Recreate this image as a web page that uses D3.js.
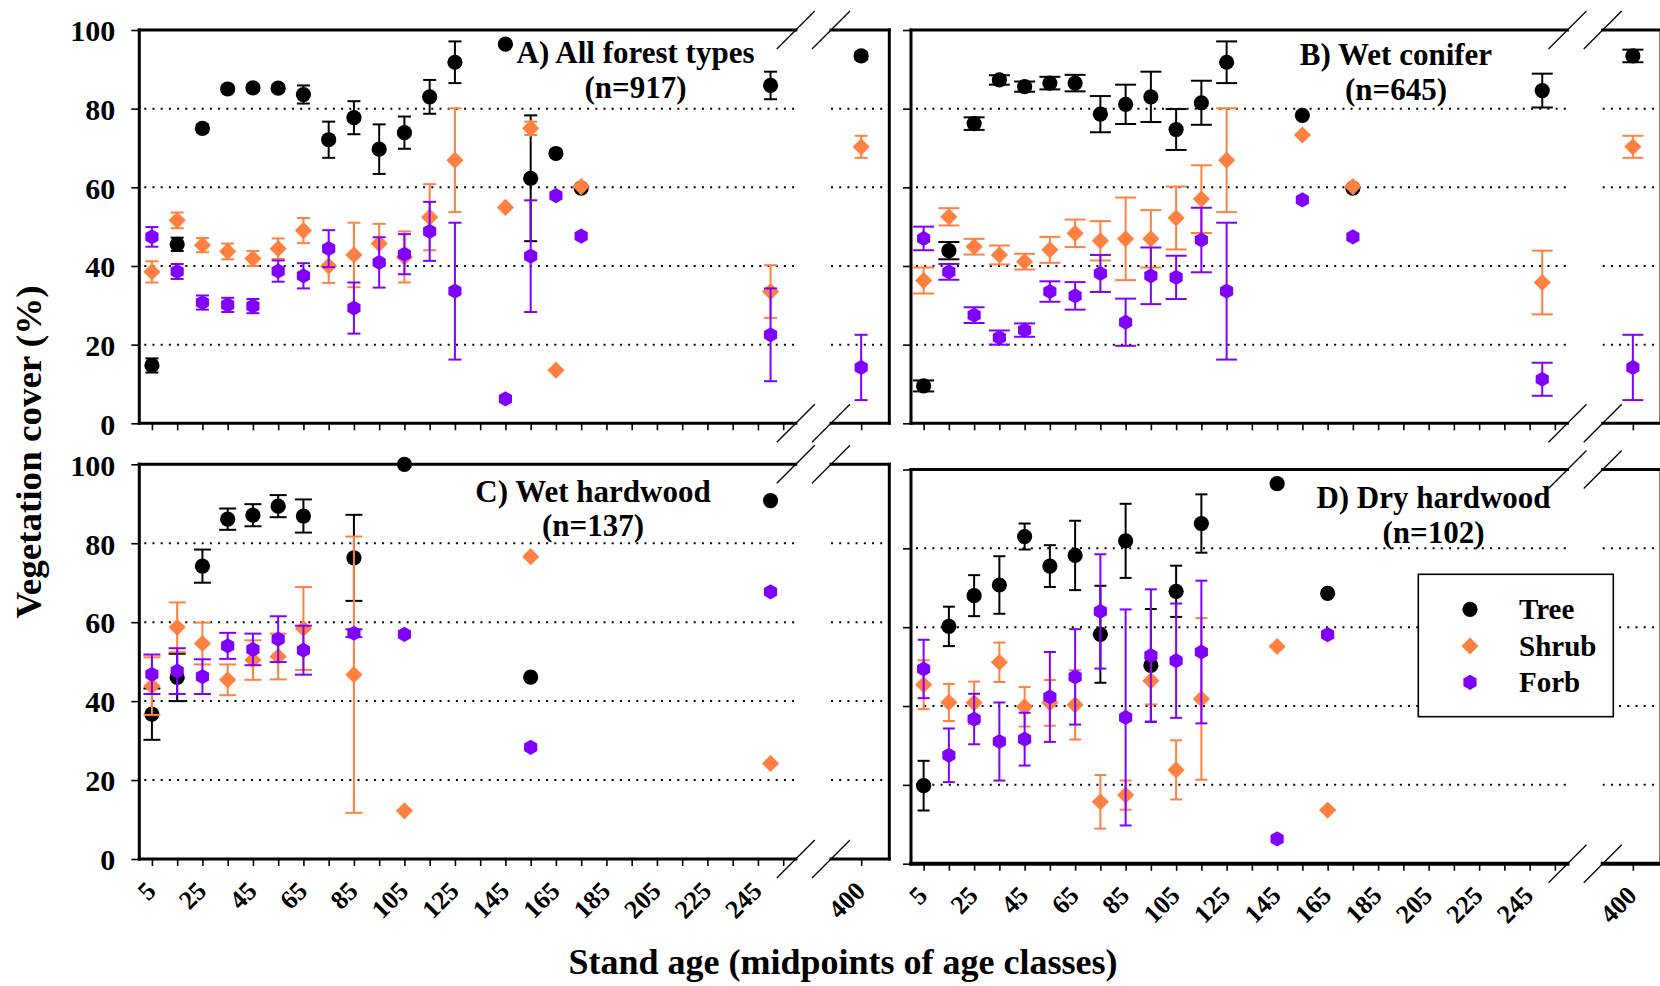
<!DOCTYPE html>
<html><head><meta charset="utf-8">
<script src="https://cdn.jsdelivr.net/npm/d3@7"></script>
<style>
body{margin:0;background:#fff}
svg{display:block}
text{font-family:"Liberation Serif","Times New Roman",serif;font-weight:bold;fill:#000}
</style>
</head><body>
<svg id="chart" width="1660" height="986"></svg>
<script>
// ---------- data ----------
const seriesNames = ["Tree", "Shrub", "Forb"];
const seriesColors = ["#000000", "#FF8040", "#8000FF"];
const ageTicks = [5,15,25,35,45,55,65,75,85,95,105,115,125,135,145,155,165,175,185,195,205,215,225,235,245,255,400];
const ageLabels = [5,25,45,65,85,105,125,145,165,185,205,225,245,400];
const yTicks = [0,20,40,60,80,100];
const yGrid = [20,40,60,80];

// Panel A: All forest types
const agesA = [5,15,25,35,45,55,65,75,85,95,105,115,125,145,155,165,175,250,400];
const treeA = [14.7,45.5,75.0,85.0,85.3,85.2,83.6,72.1,77.7,69.7,73.9,83.0,91.8,96.4,62.3,68.6,59.8,85.9,93.4];
const treeErrA = [1.8,1.7,1.0,0.8,0.8,0.8,2.3,4.6,4.2,6.3,4.1,4.3,5.3,0,16.0,0,0,3.5,1.0];
const shrubA = [38.5,51.6,45.3,43.7,41.9,44.4,49.0,40.0,42.8,45.7,42.3,52.4,66.9,54.9,75.0,13.5,60.2,33.5,70.3];
const shrubErrA = [2.7,2.0,1.8,2.0,1.9,2.6,3.2,4.3,8.2,5.0,6.5,8.4,13.2,0,1.7,0,0,6.7,2.8];
const forbA = [47.4,38.6,30.7,30.1,29.8,38.7,37.5,44.4,29.3,40.9,43.0,48.8,33.6,6.2,42.5,57.9,47.6,22.5,14.2];
const forbErrA = [2.5,1.9,1.8,1.8,1.8,2.7,3.2,4.7,6.5,6.4,5.1,7.5,17.4,0,14.2,0,0,11.8,8.3];

// Panel B: Wet conifer
const agesB = [5,15,25,35,45,55,65,75,85,95,105,115,125,155,175,250,400];
const treeB = [9.5,43.9,76.2,87.3,85.6,86.5,86.5,78.6,81.1,83.0,74.7,81.5,91.8,78.3,59.8,84.6,93.4];
const treeErrB = [1.4,2.2,1.6,1.2,1.3,1.6,2.1,4.6,5.0,6.4,5.2,5.6,5.3,0,0,4.3,1.6];
const shrubB = [36.3,52.5,44.9,42.8,41.1,44.1,48.3,46.4,46.9,46.9,52.2,57.0,66.9,73.3,60.2,35.8,70.3];
const shrubErrB = [3.3,2.2,2.0,2.4,2.0,3.3,3.5,5.0,10.5,7.3,8.0,8.6,13.2,0,0,8.1,2.8];
const forbB = [47.0,38.5,27.5,21.8,23.7,33.5,32.4,38.1,25.7,37.5,37.1,46.6,33.6,56.8,47.4,11.2,14.2];
const forbErrB = [3.0,2.0,2.0,1.8,1.7,2.6,3.5,4.7,6.0,7.2,5.5,8.2,17.4,0,0,4.2,8.3];

// Panel C: Wet hardwood
const agesC = [5,15,25,35,45,55,65,85,105,155,250];
const treeC = [36.7,46.0,74.2,86.1,87.1,89.4,86.9,76.3,100,46.1,90.8];
const treeErrC = [6.5,6.0,4.2,2.7,2.8,2.8,4.2,10.9,0,0,0];
const shrubC = [43.8,58.7,54.6,45.4,50.4,51.3,58.4,46.7,12.2,76.6,24.2];
const shrubErrC = [7.3,6.3,5.3,3.9,5.0,5.8,10.5,35.0,0,0,0];
const forbC = [46.8,47.6,46.2,54.0,53.1,55.7,52.9,57.2,56.9,28.3,67.7];
const forbErrC = [5.0,5.8,4.4,3.3,4.0,5.8,6.2,1.0,0,0,0];

// Panel D: Dry hardwood
const agesD = [5,15,25,35,45,55,65,75,85,95,105,115,145,165];
const treeD = [19.8,60.2,68.0,70.7,83.0,75.5,78.2,58.2,81.9,50.3,69.1,86.3,96.4,68.6];
const treeErrD = [6.3,5.0,5.2,7.3,3.3,5.3,8.8,12.3,9.4,14.3,6.5,7.4,0,0];
const shrubD = [45.4,40.9,40.8,51.1,39.8,40.8,40.3,15.7,17.4,46.4,23.8,41.8,55.1,13.6];
const shrubErrD = [6.2,4.7,5.4,5.0,5.0,5.8,8.8,6.8,3.7,6.0,7.5,20.5,0,0];
const forbD = [49.4,27.5,36.7,31.0,31.6,42.3,47.4,64.0,37.1,52.8,51.5,53.7,6.3,58.1];
const forbErrD = [7.4,6.8,6.4,9.9,6.7,11.4,12.1,14.5,27.4,16.8,14.5,18.1,0,0];

// ---------- layout ----------
const panels = [
  {title:"A) All forest types", n:"(n=917)", ages:agesA, vals:[treeA,shrubA,forbA], errs:[treeErrA,shrubErrA,forbErrA],
   left:139.3, top:30, bottom:423.3, cap:13, yLab:true, xLab:false, tx:635.5, ty:63, bw:3},
  {title:"B) Wet conifer", n:"(n=645)", ages:agesB, vals:[treeB,shrubB,forbB], errs:[treeErrB,shrubErrB,forbErrB],
   left:911, top:30, bottom:423.3, cap:21, yLab:false, xLab:false, tx:1396, ty:65, bw:3},
  {title:"C) Wet hardwood", n:"(n=137)", ages:agesC, vals:[treeC,shrubC,forbC], errs:[treeErrC,shrubErrC,forbErrC],
   left:139.3, top:464.3, bottom:859, cap:17, yLab:true, xLab:true, tx:593, ty:501.5, bw:3},
  {title:"D) Dry hardwood", n:"(n=102)", ages:agesD, vals:[treeD,shrubD,forbD], errs:[treeErrD,shrubErrD,forbErrD],
   left:911, top:469.5, bottom:863.7, cap:12, yLab:false, xLab:true, tx:1433.5, ty:508, bw:4, legend:true}
];
const panelW = 750;

const svg = d3.select("#chart");

function markerPath(i) {
  if (i === 0) return d3.arc()({innerRadius:0, outerRadius:7.6, startAngle:0, endAngle:2*Math.PI});
  if (i === 1) { const r = 8.6; return `M0,${-r}L${r},0L0,${r}L${-r},0Z`; }
  const r = 7.6; const pts = d3.range(6).map(k => { const a = (-90 + 60*k) * Math.PI/180; return [r*Math.cos(a), r*Math.sin(a)]; });
  return "M" + pts.map(p => p.join(",")).join("L") + "Z";
}

panels.forEach(p => {
  const L = p.left, R = p.left + panelW;
  const x = d3.scaleLinear().domain([0, 260, 388, 411.2]).range([L, L + 656.5, L + 691.7, R]);
  const y = d3.scaleLinear().domain([0, 100]).range([p.bottom, p.top]);
  const b1 = x(260), b2 = x(388);
  const g = svg.append("g");

  // gridlines (dotted)
  yGrid.forEach(v => {
    [[L + 5, b1], [b2, R - 2]].forEach(seg => {
      g.append("line").attr("x1", seg[0]).attr("x2", seg[1]).attr("y1", y(v)).attr("y2", y(v))
        .attr("stroke", "#000").attr("stroke-width", 2).attr("stroke-dasharray", "2,6.2");
    });
  });

  // y axis ticks + labels
  const yAxis = d3.axisLeft(y).tickValues(yTicks).tickSize(8).tickPadding(16)
    .tickFormat(p.yLab ? d3.format("d") : () => "");
  const ya = g.append("g").attr("transform", `translate(${L},0)`).call(yAxis);
  ya.attr("font-family", null);
  ya.select(".domain").remove();
  ya.selectAll(".tick line").attr("stroke", "#000").attr("stroke-width", 1.6);
  ya.selectAll(".tick text").attr("font-size", 30).attr("dy", "0.36em");

  // x ticks
  const xa = g.append("g").attr("transform", `translate(0,${p.bottom})`)
    .call(d3.axisBottom(x).tickValues(ageTicks).tickSize(7).tickFormat(""));
  xa.select(".domain").remove();
  xa.selectAll(".tick line").attr("stroke", "#000").attr("stroke-width", 1.6);
  if (p.xLab) {
    ageLabels.forEach(a => {
      g.append("text").attr("transform", `translate(${x(a) - 1},${p.bottom + 27}) rotate(-45)`)
        .attr("text-anchor", "end").attr("dy", "0.35em").attr("font-size", 26).text(a);
    });
  }

  // frame with breaks
  const fr = [
    [L, p.top, L, p.bottom], [R, p.top, R, p.bottom],
    [L, p.top, b1, p.top], [b2, p.top, R, p.top]
  ];
  fr.forEach(s => g.append("line").attr("x1", s[0]).attr("y1", s[1]).attr("x2", s[2]).attr("y2", s[3])
    .attr("stroke", "#000").attr("stroke-width", 3).attr("stroke-linecap", "square"));
  [[L, b1], [b2, R]].forEach(s => g.append("line").attr("x1", s[0]).attr("x2", s[1])
    .attr("y1", p.bottom).attr("y2", p.bottom).attr("stroke", "#000").attr("stroke-width", p.bw).attr("stroke-linecap", "square"));
  // break slashes
  [b1, b2].forEach(bx => [p.top, p.bottom].forEach(by => {
    g.append("line").attr("x1", bx - 19).attr("y1", by + 19).attr("x2", bx + 19).attr("y2", by - 19)
      .attr("stroke", "#000").attr("stroke-width", 1.3);
  }));

  // panel title
  g.append("text").attr("x", p.tx).attr("y", p.ty).attr("text-anchor", "middle").attr("font-size", 31).text(p.title);
  g.append("text").attr("x", p.tx).attr("y", p.ty + 34.5).attr("text-anchor", "middle").attr("font-size", 31).text(p.n);

  // series: tree, shrub, forb
  p.vals.forEach((vals, si) => {
    const col = seriesColors[si];
    const errs = p.errs[si];
    const sg = g.append("g");
    p.ages.forEach((a, i) => {
      const v = vals[i], e = errs[i];
      if (v == null) return;
      const cx = x(a);
      if (e > 0) {
        const y1 = y(v + e), y2 = y(v - e), hw = p.cap / 2;
        sg.append("line").attr("x1", cx).attr("x2", cx).attr("y1", y1).attr("y2", y2).attr("stroke", col).attr("stroke-width", 2);
        sg.append("line").attr("x1", cx - hw).attr("x2", cx + hw).attr("y1", y1).attr("y2", y1).attr("stroke", col).attr("stroke-width", 2);
        sg.append("line").attr("x1", cx - hw).attr("x2", cx + hw).attr("y1", y2).attr("y2", y2).attr("stroke", col).attr("stroke-width", 2);
      }
      sg.append("path").attr("d", markerPath(si)).attr("transform", `translate(${cx},${y(v)})`).attr("fill", col);
    });
  });

  if (p.legend) {
    const lg = g.append("g");
    lg.append("rect").attr("x", 1418.3).attr("y", 574.3).attr("width", 195).attr("height", 142.4)
      .attr("fill", "#fff").attr("stroke", "#000").attr("stroke-width", 1.6);
    const ly = [609.3, 646, 682.3];
    seriesNames.forEach((nm, si) => {
      lg.append("path").attr("d", markerPath(si)).attr("transform", `translate(1470,${ly[si]})`).attr("fill", seriesColors[si]);
      lg.append("text").attr("x", 1519).attr("y", ly[si]).attr("dy", "0.35em").attr("font-size", 29).text(nm);
    });
  }
});

// axis titles
svg.append("text").attr("transform", "translate(41,452) rotate(-90)").attr("text-anchor", "middle")
  .attr("font-size", 36).attr("textLength", 333).attr("lengthAdjust", "spacingAndGlyphs").text("Vegetation cover (%)");
svg.append("text").attr("x", 843).attr("y", 974).attr("text-anchor", "middle")
  .attr("font-size", 36).text("Stand age (midpoints of age classes)");
</script>
</body></html>
